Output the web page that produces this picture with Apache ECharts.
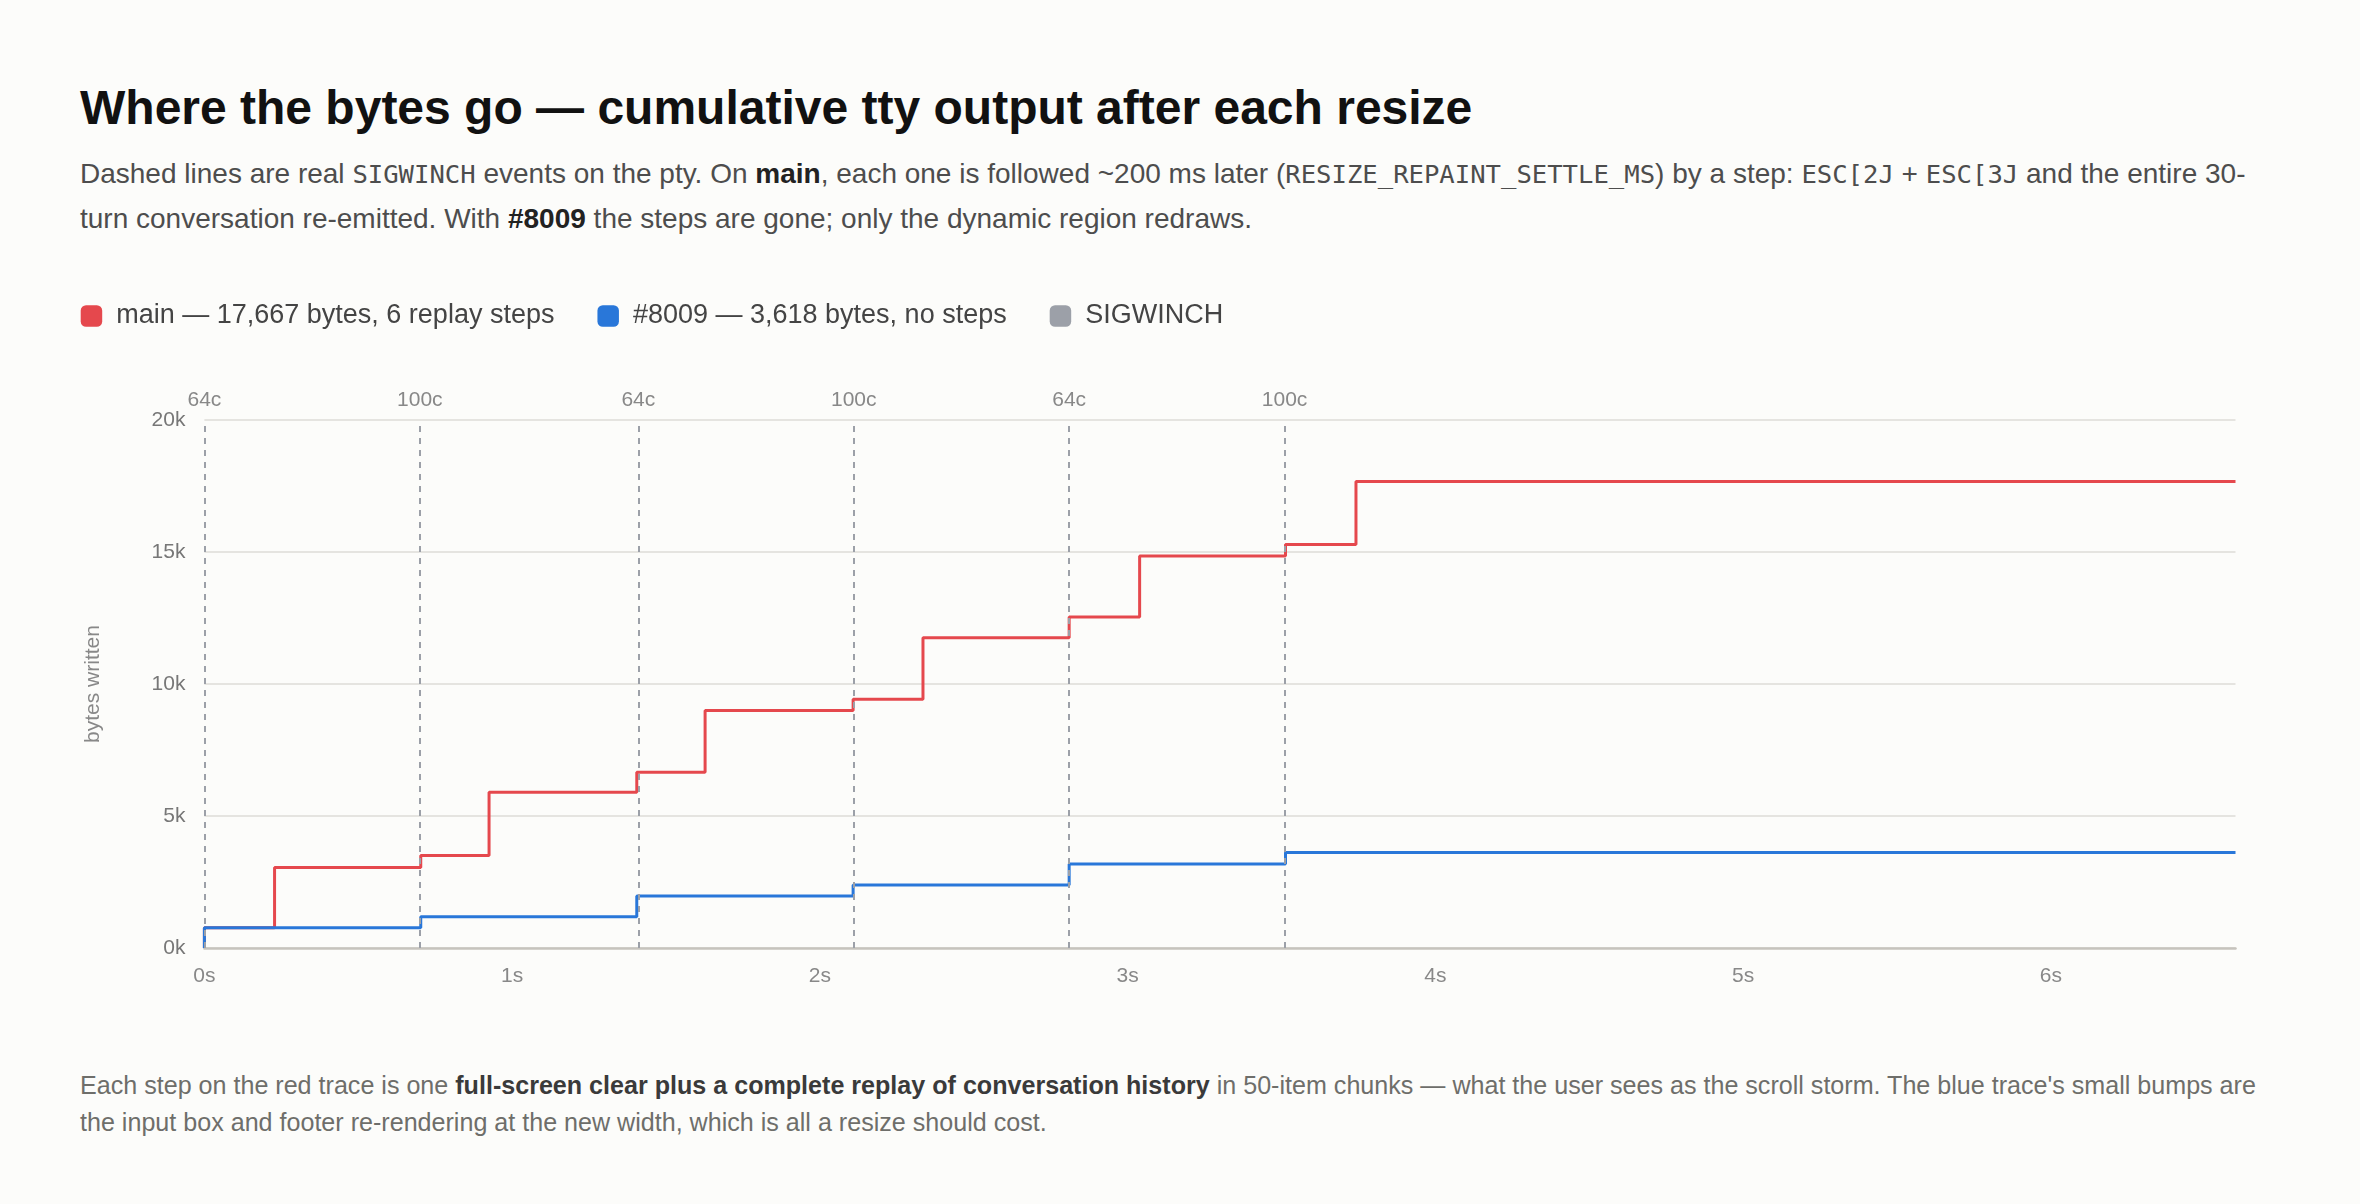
<!DOCTYPE html>
<html>
<head>
<meta charset="utf-8">
<title>Where the bytes go</title>
<script src="https://cdn.jsdelivr.net/npm/echarts@6/dist/echarts.min.js"></script>
<style>
  html, body { margin: 0; background: #fcfcfa; }
  body { width: 2360px; height: 1204px; position: relative; overflow: hidden;
         font-family: "Liberation Sans", Arial, Helvetica, sans-serif; }
  h1 { position: absolute; left: 80px; top: 79px; margin: 0; font-size: 48px; line-height: 1.2;
       font-weight: 700; color: #111; white-space: nowrap; }
  .lede { position: absolute; left: 80px; top: 152px; width: 2200px; margin: 0;
          font-size: 28px; line-height: 43.6px; color: #4d4d4d; }
  .lede b { color: #222; }
  code { font-family: "DejaVu Sans Mono", monospace; font-size: 25.6px; }
  #chart { position: absolute; left: 0; top: 280px; width: 2360px; height: 740px; }
  .foot { position: absolute; left: 80px; top: 1067px; width: 2200px; margin: 0;
          font-size: 25.1px; line-height: 36.7px; color: #6e6e6a; }
  .foot b { color: #3a3a3a; }
</style>
</head>
<body>
<h1>Where the bytes go — cumulative tty output after each resize</h1>
<p class="lede">Dashed lines are real <code>SIGWINCH</code> events on the pty. On <b>main</b>, each one is followed ~200 ms later (<code>RESIZE_REPAINT_SETTLE_MS</code>) by a step: <code>ESC[2J</code> + <code>ESC[3J</code> and the entire 30-turn conversation re-emitted. With <b>#8009</b> the steps are gone; only the dynamic region redraws.</p>
<div id="chart"></div>
<p class="foot">Each step on the red trace is one <b>full-screen clear plus a complete replay of conversation history</b> in 50-item chunks — what the user sees as the scroll storm. The blue trace's small bumps are the input box and footer re-rendering at the new width, which is all a resize should cost.</p>
<script>
// SIGWINCH events (seconds) and the terminal width after each one
const sigTimes = [0, 0.703, 1.405, 2.108, 2.81, 3.513];
const sigLabels = ['64c', '100c', '64c', '100c', '64c', '100c'];

// cumulative bytes written, value holds from its time until the next one
const mainTimes = [0, 0, 0.228, 0.703, 0.925, 1.405, 1.627, 2.108, 2.335, 2.81, 3.039, 3.513, 3.742, 6.6];
const mainBytes = [0, 770, 3050, 3500, 5900, 6660, 9000, 9420, 11750, 12540, 14850, 15280, 17667, 17667];

const fixTimes = [0, 0, 0.703, 1.405, 2.108, 2.81, 3.513, 6.6];
const fixBytes = [0, 770, 1180, 1970, 2390, 3180, 3618, 3618];

const legendLabels = {
  'main': 'main — 17,667 bytes, 6 replay steps',
  '#8009': '#8009 — 3,618 bytes, no steps',
  'SIGWINCH': 'SIGWINCH'
};

const RED = '#e5484d', BLUE = '#2977d9', GREY = '#9ca0a8';
const FONT = '"Liberation Sans", Arial, Helvetica, sans-serif';

const pairs = (xs, ys) => xs.map((t, i) => [t, ys[i]]);

const chart = echarts.init(document.getElementById('chart'), null, { renderer: 'canvas' });

chart.setOption({
  animation: false,
  backgroundColor: 'transparent',
  textStyle: { fontFamily: FONT },
  legend: {
    left: 80.7, top: 21, padding: 0,
    icon: 'roundRect', itemWidth: 21.5, itemHeight: 21.5, itemGap: 43,
    selectedMode: false,
    data: ['main', '#8009', 'SIGWINCH'],
    formatter: name => legendLabels[name],
    textStyle: { fontSize: 27, color: '#444', fontFamily: FONT, padding: [0, 0, 0, 9], lineHeight: 30 }
  },
  grid: { left: 204.4, right: 124.5, top: 140, bottom: 72 },
  xAxis: {
    type: 'value', min: 0, max: 6.6, interval: 1,
    axisLine: { show: true, lineStyle: { color: '#c6c3bd', width: 2.5 } },
    axisTick: { show: false },
    splitLine: { show: false },
    axisLabel: { formatter: '{value}s', fontSize: 21, color: '#888', margin: 18, showMaxLabel: false, fontFamily: FONT }
  },
  yAxis: {
    type: 'value', min: 0, max: 20000, interval: 5000,
    name: 'bytes written', nameLocation: 'middle', nameGap: 101,
    nameTextStyle: { fontSize: 21, color: '#888', fontFamily: FONT },
    axisLine: { show: false },
    axisTick: { show: false },
    splitLine: { lineStyle: { color: '#dedcd7', width: 1.5 } },
    axisLabel: { formatter: v => (v / 1000) + 'k', fontSize: 21, color: '#777', margin: 19, fontFamily: FONT }
  },
  series: [
    {
      name: 'SIGWINCH', type: 'line', data: [],
      itemStyle: { color: GREY }, lineStyle: { color: GREY },
      markLine: {
        silent: true, animation: false,
        symbol: ['none', 'none'],
        lineStyle: { color: GREY, type: [6, 6], width: 2 },
        label: { show: true, position: 'end', distance: 9, fontSize: 21, color: '#888', fontFamily: FONT },
        emphasis: { disabled: true },
        data: sigTimes.map((t, i) => ({ xAxis: t, label: { formatter: sigLabels[i] } }))
      }
    },
    {
      name: 'main', type: 'line', step: 'end', showSymbol: false, symbol: 'none',
      data: pairs(mainTimes, mainBytes),
      itemStyle: { color: RED }, lineStyle: { color: RED, width: 3 }, z: 3
    },
    {
      name: '#8009', type: 'line', step: 'end', showSymbol: false, symbol: 'none',
      data: pairs(fixTimes, fixBytes),
      itemStyle: { color: BLUE }, lineStyle: { color: BLUE, width: 3 }, z: 4
    }
  ]
});
</script>
</body>
</html>
